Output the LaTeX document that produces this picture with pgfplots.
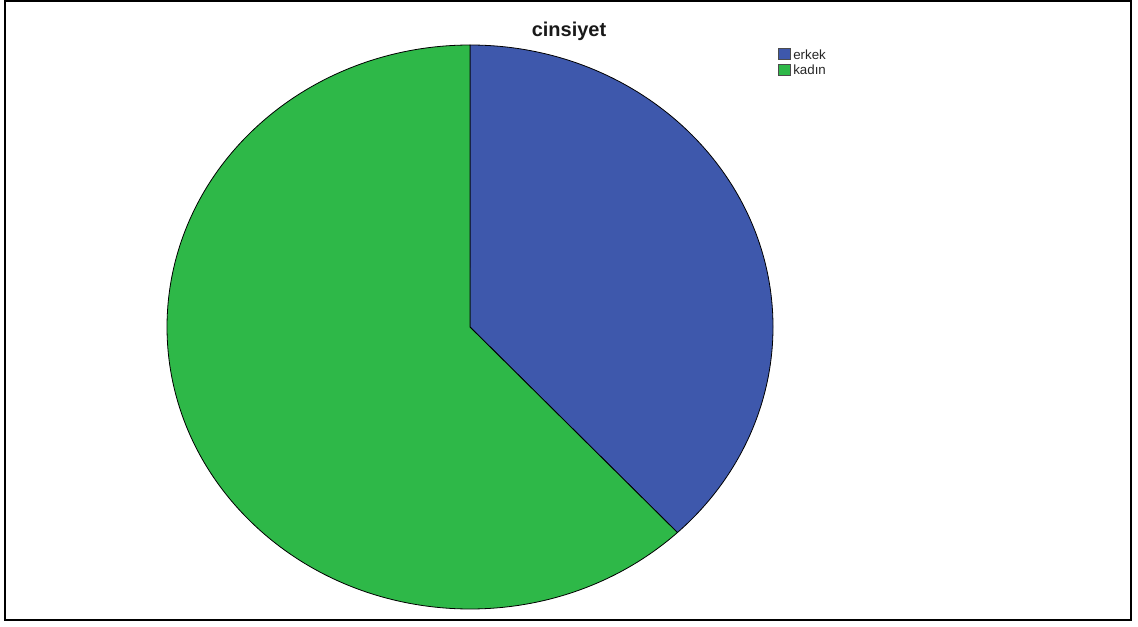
\documentclass[border=0pt]{standalone}
\usepackage{pgfplots}
\usepackage{pgfplotstable}
\pgfplotsset{compat=1.18}
\usepackage{fontspec}
\setmainfont{Liberation Sans}
\definecolor{erkekcol}{HTML}{3E58AC}
\definecolor{kadincol}{HTML}{2EB848}
\pgfplotstableread{
label value
erkek 38
kadın 62
}\piedata
\begin{document}
\begin{tikzpicture}
\pgfplotstablegetelem{0}{value}\of\piedata \let\vaErkek\pgfplotsretval
\pgfplotstablegetelem{1}{value}\of\piedata \let\vaKadin\pgfplotsretval
\pgfmathsetmacro{\tot}{\vaErkek+\vaKadin}
\pgfmathsetmacro{\aStart}{90}
\pgfmathsetmacro{\aMid}{90-\vaErkek/\tot*360}
\pgfmathsetmacro{\aEnd}{\aMid-\vaKadin/\tot*360}
\begin{axis}[
  width=853.5pt, height=469.5pt, scale only axis,
  xmin=0, xmax=1138, ymin=0, ymax=626,
  hide axis, clip=false,
  anchor=south west, at={(0,0)},
]
% pie wedges (centre 470,299 px; radii 303 x 282 px at 0.75pt/px)
\filldraw[fill=erkekcol, draw=black, line width=0.6pt, line join=round]
  (axis cs:470,299) -- ++(0,211.5pt)
  arc[start angle=\aStart, end angle=\aMid, x radius=227.25pt, y radius=211.5pt] -- cycle;
\filldraw[fill=kadincol, draw=black, line width=0.6pt, line join=round]
  (axis cs:470,299) -- ++({227.25pt*cos(\aMid)},{211.5pt*sin(\aMid)})
  arc[start angle=\aMid, end angle=\aEnd, x radius=227.25pt, y radius=211.5pt] -- cycle;
% title
\node[anchor=base, font=\fontsize{15}{18}\selectfont\bfseries, text=black!90]
  at (axis cs:569,589.5) {cinsiyet};
% legend
\filldraw[fill=erkekcol, draw=black!70, line width=0.4pt] (axis cs:778,578) rectangle (axis cs:790,567);
\filldraw[fill=kadincol, draw=black!70, line width=0.4pt] (axis cs:778,562) rectangle (axis cs:790,551);
\node[anchor=base west, inner sep=0pt, font=\fontsize{10}{12}\selectfont, text=black!85]
  at (axis cs:793,566.5) {erkek};
\node[anchor=base west, inner sep=0pt, font=\fontsize{10}{12}\selectfont, text=black!85]
  at (axis cs:793,551) {kadın};
% frame
\draw[black, line width=1.5pt] (axis cs:5,625) rectangle (axis cs:1130.5,5.7);
\end{axis}
\pgfresetboundingbox
\path (0,0) rectangle (853.5pt,469.5pt);
\end{tikzpicture}
\end{document}
